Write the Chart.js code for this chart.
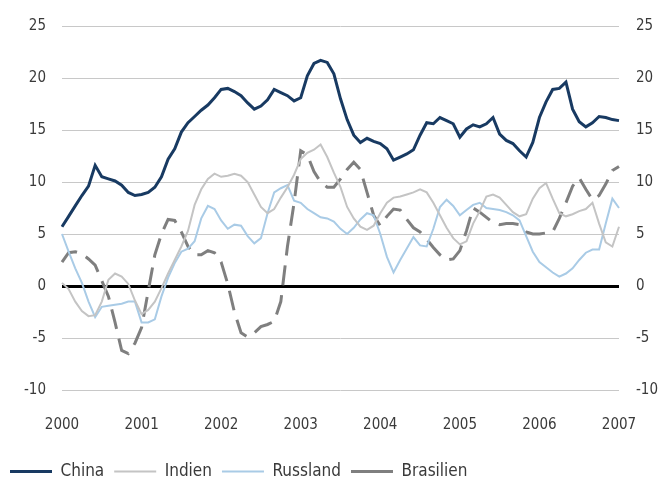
<!DOCTYPE html>
<html>
<head>
<meta charset="utf-8">
<script src="https://cdn.jsdelivr.net/npm/chart.js@4.4.1/dist/chart.umd.min.js"></script>
<style>
  html, body { margin: 0; padding: 0; background: #ffffff; }
  #wrap { position: relative; width: 663px; height: 484px; }
</style>
</head>
<body>
<div id="wrap"><canvas id="c" width="663" height="484"></canvas></div>
<script>
// Tick labels (years) and monthly categories (Jan 2000 .. Jan 2007)
const yearLabels = ['2000', '2001', '2002', '2003', '2004', '2005', '2006', '2007'];
const monthNames = ['01','02','03','04','05','06','07','08','09','10','11','12'];
const categories = [];
yearLabels.forEach((y, yi) => {
  monthNames.forEach((m, mi) => {
    if (yi < yearLabels.length - 1 || mi === 0) categories.push(y + '-' + m);
  });
});

// Series values
const china = [
  5.7, 6.7, 7.7, 8.7, 9.6, 11.6, 10.5, 10.3, 10.1, 9.7, 9.0, 8.7,
  8.8, 9.0, 9.5, 10.5, 12.2, 13.2, 14.8, 15.7, 16.3, 16.9, 17.4, 18.1,
  18.9, 19.0, 18.7, 18.3, 17.6, 17.0, 17.3, 17.9, 18.9, 18.6, 18.3, 17.8,
  18.1, 20.2, 21.4, 21.7, 21.5, 20.4, 18.0, 16.0, 14.5, 13.8, 14.2, 13.9,
  13.7, 13.2, 12.1, 12.4, 12.7, 13.1, 14.5, 15.7, 15.6, 16.2, 15.9, 15.6,
  14.3, 15.1, 15.5, 15.3, 15.6, 16.2, 14.6, 14.0, 13.7, 13.0, 12.4, 13.8,
  16.2, 17.7, 18.9, 19.0, 19.6, 17.0, 15.8, 15.3, 15.7, 16.3, 16.2, 16.0,
  15.9
];
const indien = [
  0.3, -0.3, -1.5, -2.4, -2.9, -2.8, -1.5, 0.6, 1.2, 0.9, 0.2, -1.4,
  -2.7, -2.3, -1.5, -0.2, 1.2, 2.5, 3.8, 5.3, 7.8, 9.3, 10.3, 10.8,
  10.5, 10.6, 10.8, 10.6, 10.0, 8.8, 7.6, 7.0, 7.4, 8.5, 9.5, 10.7,
  12.2, 12.8, 13.1, 13.6, 12.4, 10.9, 9.5, 7.6, 6.5, 5.7, 5.4, 5.8,
  7.0, 8.0, 8.5, 8.6, 8.8, 9.0, 9.3, 9.0, 8.0, 6.8, 5.6, 4.6,
  4.0, 4.3, 6.0, 7.2, 8.6, 8.8, 8.5, 7.8, 7.1, 6.7, 6.9, 8.4,
  9.4, 9.9, 8.4, 7.0, 6.7, 6.9, 7.2, 7.4, 8.0, 6.0, 4.2, 3.8,
  5.7
];
const russland = [
  5.0, 3.3, 1.7, 0.3, -1.5, -3.0, -2.0, -1.9, -1.8, -1.7, -1.5, -1.5,
  -3.5, -3.5, -3.2, -1.0, 0.8, 2.2, 3.3, 3.6, 4.3, 6.5, 7.7, 7.4,
  6.3, 5.5, 5.9, 5.8, 4.8, 4.1, 4.6, 7.0, 9.0, 9.4, 9.7, 8.2,
  8.0, 7.4, 7.0, 6.6, 6.5, 6.2, 5.5, 5.0, 5.6, 6.4, 7.0, 6.8,
  5.0, 2.8, 1.3, 2.5, 3.6, 4.7, 3.9, 3.8, 5.5, 7.6, 8.3, 7.7,
  6.8, 7.3, 7.8, 8.0, 7.5, 7.4, 7.3, 7.1, 6.8, 6.3, 4.8, 3.3,
  2.3, 1.8, 1.3, 0.9, 1.2, 1.7, 2.5, 3.2, 3.5, 3.5, 6.0, 8.4,
  7.5
];
const brasilien = [
  2.3, 3.2, 3.3, 3.1, 2.6, 2.0, 0.5, -1.0, -3.5, -6.2, -6.5, -5.5,
  -4.0, -0.5, 3.0, 5.0, 6.4, 6.3, 5.2, 3.8, 3.0, 3.0, 3.4, 3.2,
  2.3, 0.2, -2.5, -4.5, -4.9, -4.5, -3.9, -3.7, -3.4, -1.5, 3.8, 8.0,
  13.0, 12.6, 11.0, 10.0, 9.5, 9.5, 10.3, 11.2, 11.9, 11.2, 9.0, 6.8,
  5.8, 6.7, 7.4, 7.3, 6.4, 5.6, 5.2, 4.5, 3.7, 3.0, 2.5, 2.6,
  3.4, 5.3, 7.5, 7.1, 6.6, 6.1, 5.9, 6.0, 6.0, 5.9, 5.2, 5.0,
  5.0, 5.1, 5.2, 6.5, 8.0, 9.6, 10.4, 9.3, 8.3, 8.7, 9.8, 11.1,
  11.5
];
const seriesNames = ['China', 'Indien', 'Russland', 'Brasilien'];
const yTicks = [-10, -5, 0, 5, 10, 15, 20, 25];

const FONT = "'Liberation Sans Narrow', 'DejaVu Sans Condensed', 'Open Sans', sans-serif";
const TXT = '#3a3a3a';

Chart.defaults.font.family = FONT;
Chart.defaults.font.size = 15;
Chart.defaults.color = TXT;

const yCommon = {
  type: 'linear',
  min: yTicks[0],
  max: yTicks[yTicks.length - 1],
  border: { display: false },
  ticks: { stepSize: 5, padding: 16, color: TXT, font: { size: 15 } }
};

new Chart(document.getElementById('c'), {
  type: 'line',
  data: {
    labels: categories,
    datasets: [
      { label: seriesNames[0], data: china, borderColor: '#183a62', borderWidth: 3, yAxisID: 'y' },
      { label: seriesNames[1], data: indien, borderColor: '#c4c4c4', borderWidth: 2, yAxisID: 'y' },
      { label: seriesNames[2], data: russland, borderColor: '#a9cbe6', borderWidth: 2, yAxisID: 'y' },
      { label: seriesNames[3], data: brasilien, borderColor: '#7f7f7f', borderWidth: 3, borderDash: [20, 10], yAxisID: 'y' }
    ]
  },
  options: {
    responsive: false,
    animation: false,
    devicePixelRatio: 1,
    elements: { point: { radius: 0 }, line: { tension: 0, borderCapStyle: 'butt', fill: false } },
    layout: { padding: { top: 25, left: 0, right: 0, bottom: -6 } },
    plugins: {
      tooltip: { enabled: false },
      legend: {
        position: 'bottom',
        align: 'start',
        labels: {
          usePointStyle: true,
          pointStyle: 'line',
          pointStyleWidth: 42,
          boxHeight: 10,
          padding: 10,
          color: TXT,
          font: { size: 17 }
        }
      }
    },
    scales: {
      x: {
        type: 'category',
        offset: false,
        grid: { display: false },
        border: { display: false },
        ticks: {
          autoSkip: false,
          maxRotation: 0,
          padding: 18,
          color: TXT,
          font: { size: 15 },
          callback: function (val, idx) {
            return idx % 12 === 0 ? yearLabels[idx / 12] : null;
          }
        },
        afterFit: function (scale) { scale.height = 63; }
      },
      y: Object.assign({}, yCommon, {
        position: 'left',
        grid: {
          drawTicks: false,
          color: (c) => (c.tick && c.tick.value === 0 ? '#000000' : '#c8c8c8'),
          lineWidth: (c) => (c.tick && c.tick.value === 0 ? 3 : 1)
        },
        afterFit: function (scale) { scale.width = 62; }
      }),
      y2: Object.assign({}, yCommon, {
        position: 'right',
        grid: { display: false, drawTicks: false },
        ticks: Object.assign({}, yCommon.ticks, { padding: 17 }),
        afterFit: function (scale) { scale.width = 44; }
      })
    }
  }
});
</script>
</body>
</html>
